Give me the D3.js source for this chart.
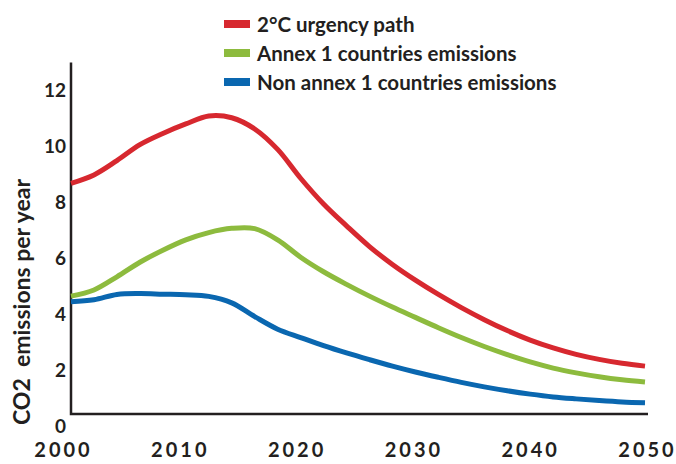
<!DOCTYPE html>
<html lang="en">
<head>
<meta charset="UTF-8">
<script src="https://d3js.org/d3.v7.min.js"></script>
<style>
body { margin: 0; background: #fff; }
svg { display: block; }
text { font-family: "Lato", "Noto Sans", sans-serif; fill: #231f20; }
.tick-y, .tick-x { font-weight: 700; }
.legend text { font-weight: 700; font-size: 20.5px; }
</style>
</head>
<body>
<svg></svg>
<script>
// years sampled along the curves
const years = [2000, 2002, 2004, 2006, 2008, 2010, 2012, 2014, 2016, 2018, 2020,
               2022, 2024, 2026, 2028, 2030, 2032, 2034, 2036, 2038, 2040, 2042, 2044, 2046, 2048, 2050];

// 2°C urgency path
const urgency = [8.24, 8.54, 9.05, 9.62, 10.02, 10.36, 10.64, 10.58, 10.18, 9.45, 8.42,
                 7.50, 6.72, 5.98, 5.34, 4.78, 4.27, 3.80, 3.37, 2.98, 2.64, 2.36, 2.13, 1.95, 1.81, 1.71];
// Annex 1 countries
const annex1 = [4.21, 4.43, 4.90, 5.42, 5.85, 6.22, 6.48, 6.63, 6.62, 6.22, 5.60,
                5.08, 4.63, 4.21, 3.82, 3.45, 3.08, 2.73, 2.41, 2.12, 1.86, 1.64, 1.47, 1.33, 1.22, 1.14];
// Non annex 1 countries
const nonAnnex1 = [4.01, 4.08, 4.27, 4.30, 4.28, 4.26, 4.20, 3.97, 3.48, 3.03, 2.73,
                   2.44, 2.18, 1.94, 1.71, 1.50, 1.31, 1.13, 0.97, 0.83, 0.71, 0.61, 0.54, 0.48, 0.43, 0.40];

const seriesNames = ["2°C urgency path", "Annex 1 countries emissions", "Non annex 1 countries emissions"];
const seriesColors = ["#d7282f", "#8dbb3e", "#0a67b0"];
const yTicks = [0, 2, 4, 6, 8, 10, 12];
const xTicks = [2000, 2010, 2020, 2030, 2040, 2050];

const width = 676, height = 464;
const svg = d3.select("svg").attr("width", width).attr("height", height);

var x = d3.scaleLinear().domain([2000, 2050]).range([71, 645]);
var y = d3.scaleLinear().domain([0, 12]).range([414, 78]);
// the year labels sit a little off the data grid in the original
var xLab = d3.scaleLinear().domain([2000, 2050]).range([62, 646]);

// axes
svg.append("path")
    .attr("d", "M" + x(2000) + "," + y(12.55) + "V" + y(0) + "H" + (x(2050) + 3))
    .attr("fill", "none")
    .attr("stroke", "#231f20")
    .attr("stroke-width", 2.5);

svg.selectAll(".tick-y")
    .data(yTicks)
    .join("text")
    .attr("class", "tick-y")
    .attr("x", x(2000) - 5)
    .attr("y", d => y(d) + 19)
    .attr("text-anchor", "end")
    .attr("font-size", 19)
    .text(d => d);

svg.selectAll(".tick-x")
    .data(xTicks)
    .join("text")
    .attr("class", "tick-x")
    .attr("x", d => xLab(d) + 1.5)
    .attr("y", 457)
    .attr("text-anchor", "middle")
    .attr("font-size", 20)
    .attr("letter-spacing", 3)
    .text(d => d);

svg.append("text")
    .attr("transform", "translate(30," + 302 + ") rotate(-90)")
    .attr("text-anchor", "middle")
    .attr("font-size", 23)
    .attr("font-weight", 700)
    .style("white-space", "pre")
    .text("CO2  emissions per year");

// lines
var line = d3.line()
    .x((d, i) => x(years[i]))
    .y(d => y(d))
    .curve(d3.curveCatmullRom.alpha(0.5));

[urgency, annex1, nonAnnex1].forEach(function(s, k) {
    svg.append("path")
        .datum(s)
        .attr("fill", "none")
        .attr("stroke", seriesColors[k])
        .attr("stroke-width", 5)
        .attr("d", line);
});

// legend
var legend = svg.append("g").attr("class", "legend");
seriesNames.forEach(function(name, k) {
    var ly = 24 + k * 29;
    legend.append("rect")
        .attr("x", 224).attr("y", ly - 4)
        .attr("width", 26).attr("height", 8)
        .attr("fill", seriesColors[k]);
    legend.append("text")
        .attr("x", 257).attr("y", ly)
        .attr("dominant-baseline", "central")
        .text(name);
});
</script>
</body>
</html>
